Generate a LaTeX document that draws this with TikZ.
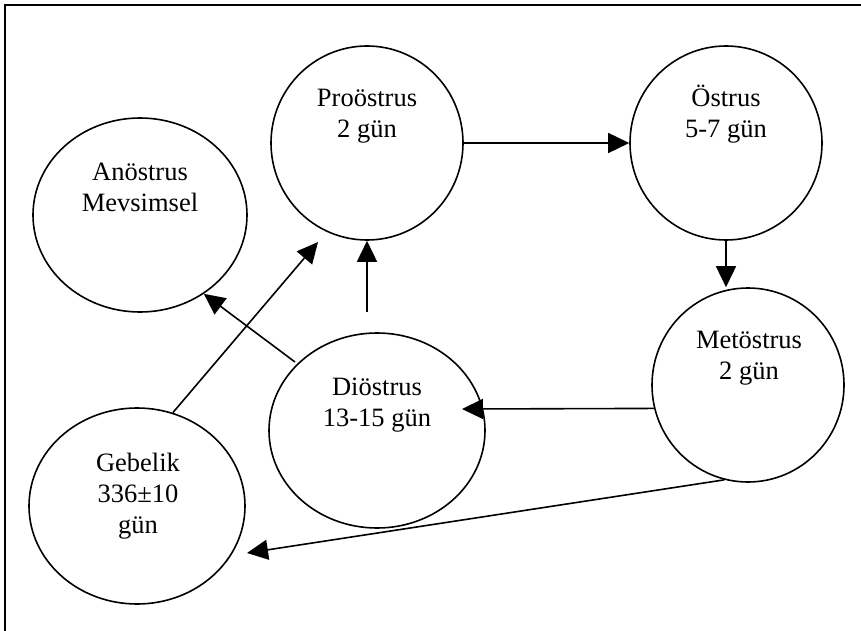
\documentclass[tikz,border=0pt]{standalone}
\usepackage{fontspec}
\setmainfont{Liberation Serif}
\usetikzlibrary{shapes.geometric,arrows.meta}
\begin{document}
\begin{tikzpicture}[x=1pt,y=-1pt,
  phase/.style={draw, ellipse, line width=1.6pt, inner sep=0pt},
  lbl/.style={font=\fontsize{26.5}{31}\selectfont, align=center, anchor=base, inner sep=0pt},
  arr/.style={line width=1.6pt, -{Triangle[length=21pt,width=20pt]}}]
\useasboundingbox (0,0) rectangle (861,631);
\draw[line width=1.6pt] (5,631) -- (5,5) -- (861,5);
% phases
\node[phase, minimum width=214pt, minimum height=194pt] (ano) at (140,215) {};
\node[phase, minimum width=192pt, minimum height=194pt] (pro) at (367,143) {};
\node[phase, minimum width=192pt, minimum height=194pt] (oes) at (726,143) {};
\node[phase, minimum width=192pt, minimum height=194pt] (met) at (748,385) {};
\node[phase, minimum width=216pt, minimum height=195pt] (dio) at (377,430.5) {};
\node[phase, minimum width=216pt, minimum height=196pt] (geb) at (137,506) {};
% labels (base = baseline of the last line)
\node[lbl] (anoT) at (140,211) {Anöstrus\\Mevsimsel};
\node[lbl] (proT) at (367,138) {Proöstrus\\2 gün};
\node[lbl] (oesT) at (726,138) {Östrus\\5-7 gün};
\node[lbl] (metT) at (749,379) {Metöstrus\\2 gün};
\node[lbl] (dioT) at (377,426) {Diöstrus\\13-15 gün};
\node[lbl] (gebT) at (138,533) {Gebelik\\336±10\\gün};
% free ends
\coordinate (metdio) at (462,409);
\coordinate (diopro) at (367,312);
\coordinate (dioano) at (295,362);
\coordinate (gebpro) at (318,242);
\coordinate (metgeb) at (247,553);
% connectors
\draw[arr] (pro.east) -- (oes.west);
\draw[arr] (oes.south) -- (oes.south |- met.north);
\draw[arr] (met.194.5) -- (metdio);
\draw[arr] (diopro) -- (pro.south);
\draw[arr] (dioano) -- (ano.-51);
\draw[arr] (geb.69) -- (gebpro);
\draw[arr] (met.256) -- (metgeb);
\end{tikzpicture}
\end{document}
